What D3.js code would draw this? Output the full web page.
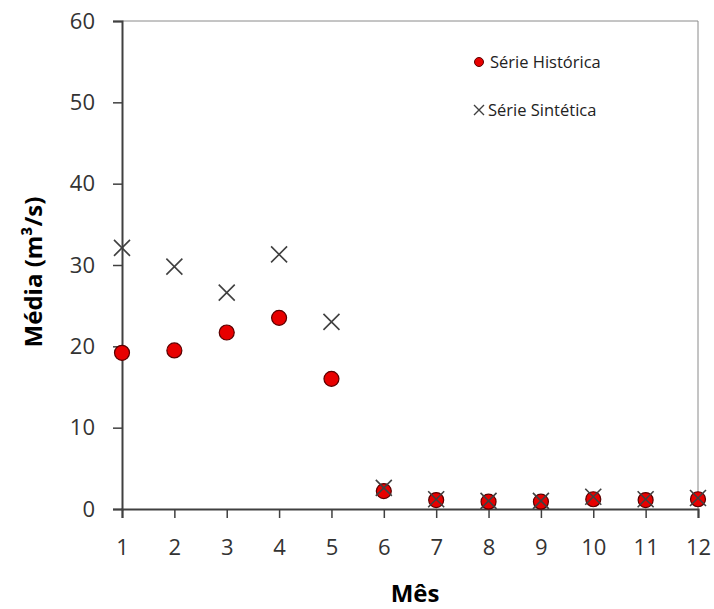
<!DOCTYPE html>
<html>
<head>
<meta charset="utf-8">
<script src="https://cdn.jsdelivr.net/npm/d3@7"></script>
<style>
  body { margin: 0; background: #fff; }
  svg { font-family: "Open Sans", Lato, sans-serif; }
</style>
</head>
<body>
<div class="chart"></div>
<script>
const months = [1, 2, 3, 4, 5, 6, 7, 8, 9, 10, 11, 12];
const historica = [19.2, 19.5, 21.7, 23.5, 16.0, 2.2, 1.1, 0.9, 0.9, 1.2, 1.1, 1.2];
const sintetica = [32.1, 29.8, 26.6, 31.3, 23.0, 2.6, 1.2, 1.0, 1.0, 1.5, 1.2, 1.35];
const yTicks = [0, 10, 20, 30, 40, 50, 60];

const width = 714, height = 609;
const margin = {top: 21, right: 16, bottom: 100, left: 122};
const w = width - margin.left - margin.right;
const h = height - margin.top - margin.bottom;

const svg = d3.select('.chart').append('svg')
  .attr('width', width)
  .attr('height', height);

const g = svg.append('g')
  .attr('transform', `translate(${margin.left},${margin.top})`);

const x = d3.scaleLinear().domain([1, 12]).range([0, w]);
const y = d3.scaleLinear().domain([0, 60]).range([h, 0]);

// plot area frame (top and right)
g.append('path')
  .attr('d', `M0,0H${w}V${h}`)
  .attr('fill', 'none')
  .attr('stroke', '#8a8a8a')
  .attr('stroke-width', 1);

const xAxis = g.append('g')
  .attr('transform', `translate(0,${h})`)
  .call(d3.axisBottom(x).tickValues(months).tickSize(9).tickPadding(21).tickFormat(d3.format('d')));

const yAxis = g.append('g')
  .call(d3.axisLeft(y).tickValues(yTicks).tickSize(9).tickPadding(18));

[xAxis, yAxis].forEach(a => {
  a.select('.domain').attr('stroke', '#404040').attr('stroke-width', 2);
  a.selectAll('.tick line').attr('stroke', '#404040').attr('stroke-width', 1.5);
  a.selectAll('.tick text')
    .attr('fill', '#333')
    .style('font-size', '22px')
    .style('font-family', '"Open Sans", Lato, sans-serif');
});

// historical series
g.selectAll('.hist')
  .data(months)
  .enter().append('circle')
    .attr('class', 'hist')
    .attr('cx', d => x(d))
    .attr('cy', (d, i) => y(historica[i]))
    .attr('r', 7.5)
    .attr('fill', '#e80000')
    .attr('stroke', '#5a0000')
    .attr('stroke-width', 1.2);

// synthetic series
const s = 8;
g.selectAll('.sint')
  .data(months)
  .enter().append('path')
    .attr('class', 'sint')
    .attr('d', (d, i) => {
      const cx = x(d), cy = y(sintetica[i]);
      return `M${cx - s},${cy - s}L${cx + s},${cy + s}M${cx - s},${cy + s}L${cx + s},${cy - s}`;
    })
    .attr('stroke', '#404040')
    .attr('stroke-width', 1.6)
    .attr('fill', 'none');

// axis titles
svg.append('text')
  .attr('x', 415)
  .attr('y', 602)
  .attr('text-anchor', 'middle')
  .style('font-size', '24px')
  .style('font-weight', 'bold')
  .text('Mês');

svg.append('text')
  .attr('transform', `translate(42,272) rotate(-90)`)
  .attr('text-anchor', 'middle')
  .style('font-size', '24px')
  .style('font-weight', 'bold')
  .text('Média (m³/s)');

// legend
const legend = svg.append('g');
legend.append('circle')
  .attr('cx', 479).attr('cy', 62).attr('r', 4.5)
  .attr('fill', '#e80000').attr('stroke', '#5a0000').attr('stroke-width', 1);
legend.append('text')
  .attr('x', 490).attr('y', 68)
  .style('font-size', '16.5px').attr('fill', '#222')
  .text('Série Histórica');
legend.append('path')
  .attr('d', 'M474,105L484,115M474,115L484,105')
  .attr('stroke', '#404040').attr('stroke-width', 1.4);
legend.append('text')
  .attr('x', 488).attr('y', 116)
  .style('font-size', '16.5px').attr('fill', '#222')
  .text('Série Sintética');
</script>
</body>
</html>
